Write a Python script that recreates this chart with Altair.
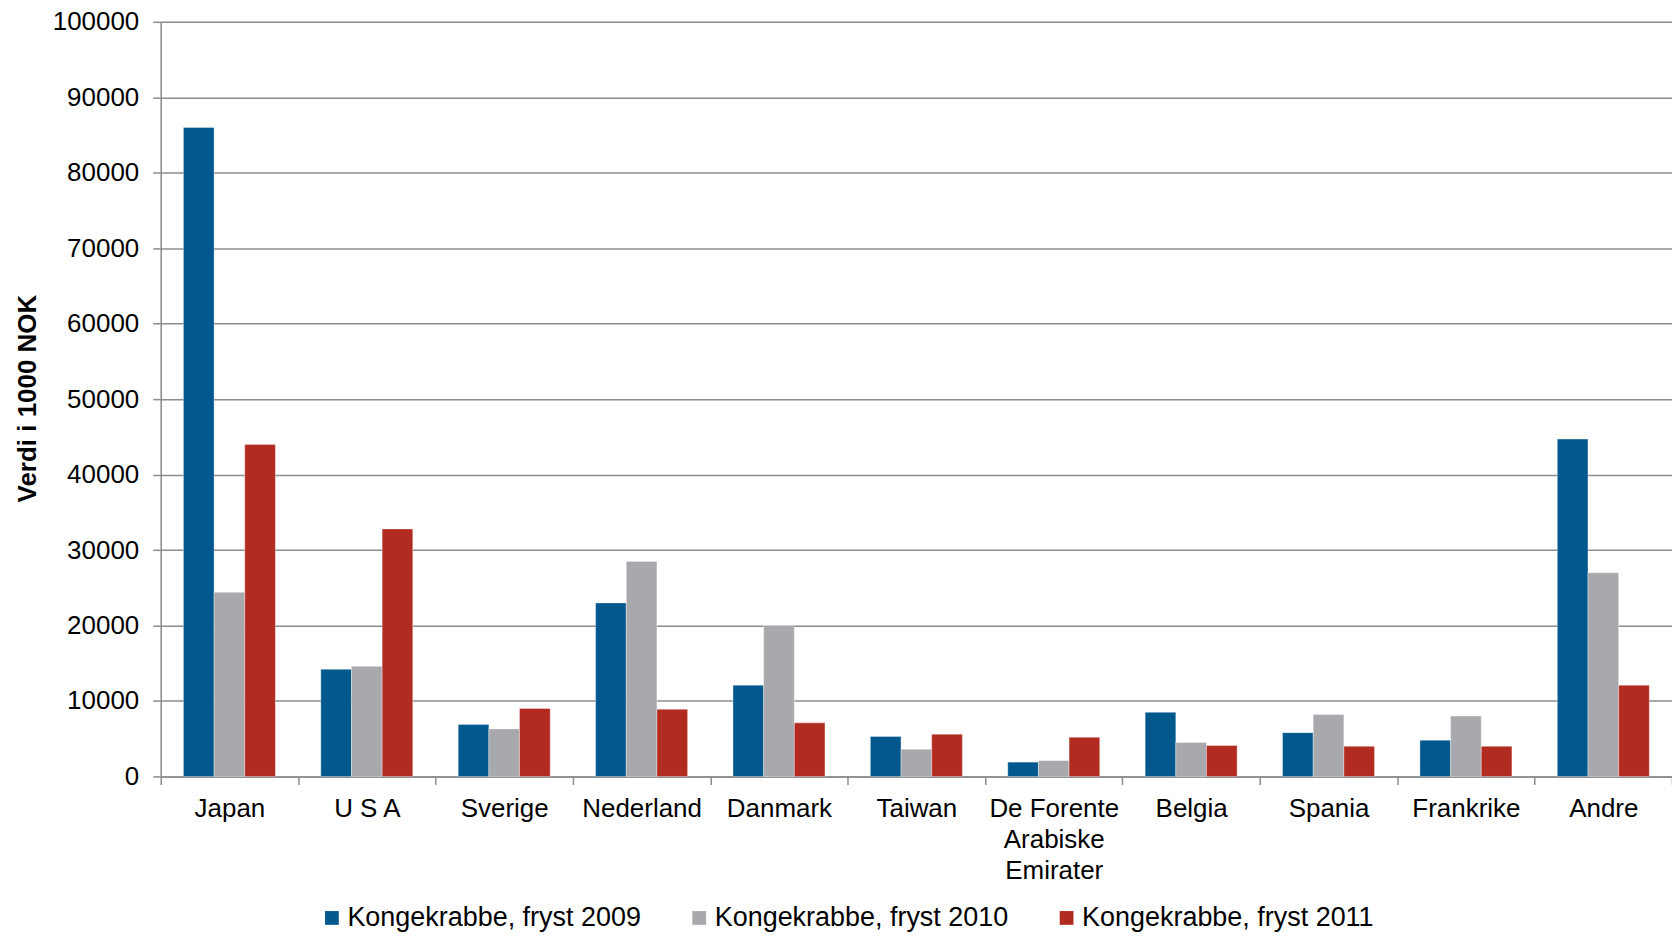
import altair as alt
import pandas as pd

countries = ["Japan", "U S A", "Sverige", "Nederland", "Danmark", "Taiwan",
             "De Forente Arabiske Emirater", "Belgia", "Spania", "Frankrike", "Andre"]
series = ["Kongekrabbe, fryst 2009", "Kongekrabbe, fryst 2010", "Kongekrabbe, fryst 2011"]
v2009 = [86000, 14200, 6900, 23000, 12100, 5300, 1900, 8500, 5800, 4800, 44700]
v2010 = [24400, 14600, 6300, 28500, 20000, 3600, 2100, 4500, 8200, 8000, 27000]
v2011 = [44000, 32800, 9000, 8900, 7100, 5600, 5200, 4100, 4000, 4000, 12100]
colors = ["#00588C", "#A8A9AD", "#B22B20"]
y_ticks = list(range(0, 100001, 10000))

rows = []
for s, vals in zip(series, [v2009, v2010, v2011]):
    for c, v in zip(countries, vals):
        rows.append({"Land": c, "Serie": s, "Verdi": v})
df = pd.DataFrame(rows)

FONT = "Liberation Sans"
GRID = "#8C8C8C"

chart = alt.Chart(df).mark_bar(stroke="white", strokeWidth=0.6, strokeOpacity=0.6).encode(
    x=alt.X("Land:N", sort=countries, title=None,
            scale=alt.Scale(paddingInner=0, paddingOuter=0),
            axis=alt.Axis(labelAngle=0, labelFontSize=26, labelFont=FONT, labelColor="#000000",
                          labelPadding=11, labelLineHeight=31,
                          labelExpr="datum.value == 'De Forente Arabiske Emirater' ? ['De Forente', 'Arabiske', 'Emirater'] : datum.value",
                          tickBand="extent", tickSize=8, tickColor=GRID, tickWidth=1.5,
                          domainColor=GRID, domainWidth=1.5, grid=False)),
    xOffset=alt.XOffset("Serie:N", sort=series,
                        scale=alt.Scale(paddingInner=0, paddingOuter=0.74)),
    y=alt.Y("Verdi:Q", title="Verdi i 1000 NOK",
            scale=alt.Scale(domain=[0, 100000], nice=False),
            axis=alt.Axis(values=y_ticks, format="d", labelFontSize=26, labelFont=FONT,
                          labelColor="#000000", labelPadding=14,
                          tickSize=8, tickColor=GRID, tickWidth=1.5,
                          domainColor=GRID, domainWidth=1.5,
                          grid=True, gridColor=GRID, gridWidth=1.5,
                          titleFont=FONT, titleFontSize=26, titleFontWeight="bold",
                          titleColor="#000000", titleAngle=-90, titleX=-133, titleY=377,
                          titleAlign="center", titleBaseline="middle")),
    color=alt.Color("Serie:N", sort=series,
                    scale=alt.Scale(domain=series, range=colors),
                    legend=alt.Legend(title=None, orient="none", direction="horizontal",
                                      legendX=158, legendY=884,
                                      symbolType="square", symbolSize=190,
                                      symbolStrokeWidth=0, labelFont=FONT,
                                      labelFontSize=27, labelColor="#000000",
                                      labelLimit=400, columnPadding=44, labelOffset=2)),
).properties(
    width=1514, height=756,
    padding={"left": 153, "top": 13, "right": 0, "bottom": 156},
    autosize=alt.AutoSizeParams(type="none"),
).configure_view(stroke=None).configure(background="white")

chart.save("out.html", embed_options={"renderer": "svg", "actions": False})
